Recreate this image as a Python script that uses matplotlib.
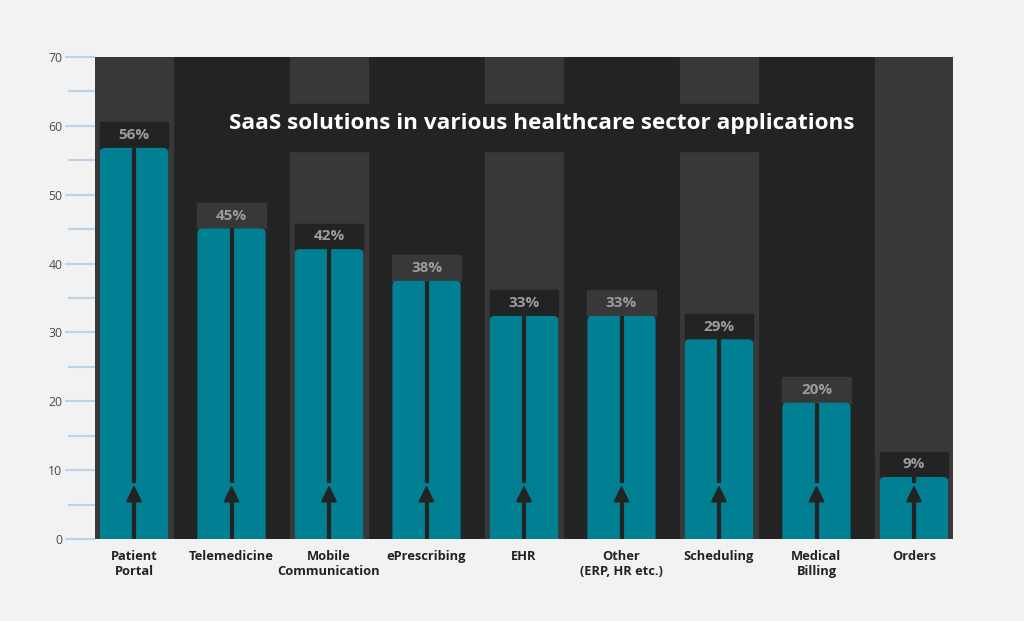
import numpy as np
import matplotlib
matplotlib.use('Agg')
import matplotlib.pyplot as plt
from matplotlib.patches import Rectangle, FancyBboxPatch, Polygon

plt.rcParams['font.family'] = ['Open Sans', 'DejaVu Sans']

# data
categories = ['Patient\nPortal', 'Telemedicine', 'Mobile\nCommunication',
              'ePrescribing', 'EHR', 'Other\n(ERP, HR etc.)', 'Scheduling',
              'Medical\nBilling', 'Orders']
values = [56.8, 45.1, 42.1, 37.5, 32.4, 32.4, 29.0, 19.8, 9.0]
labels = ['56%', '45%', '42%', '38%', '33%', '33%', '29%', '20%', '9%']
yticks = [0, 10, 20, 30, 40, 50, 60, 70]

BG = '#f2f2f2'
DARK = '#222323'
LIGHT = '#383838'
TEAL = '#017f93'
TICK = '#bcd3e8'

fig = plt.figure(figsize=(10.24, 6.21), dpi=100, facecolor=BG)
ax = fig.add_axes([95 / 1024, 82 / 621, 858 / 1024, 482 / 621])
ax.set_facecolor(DARK)
ax.set_xlim(-0.4, 8.4)
ax.set_ylim(0, 70)

# px -> data scale, used for rounded corners
xpx = 8.8 / 858
ypx = 70 / 482
aspect = ypx / xpx

x = np.arange(len(categories))
bw = 0.70

# lighter background bands behind every other column
for i in x[::2]:
    ax.add_patch(Rectangle((i - 0.4, 0), 0.8, 70, color=LIGHT, zorder=0))
# dark strip behind the title
ax.add_patch(Rectangle((1.6, 56.3), 4.8, 6.9, color=DARK, zorder=0.5))

for i, v, lab in zip(x, values, labels):
    box_col = DARK if i % 2 == 0 else LIGHT
    ax.add_patch(Rectangle((i - bw / 2, v), bw, 3.7, color=box_col, zorder=1))
    ax.text(i, v + 1.85, lab, ha='center', va='center', color='#9c9c9c',
            fontsize=11, fontweight='bold', zorder=5)
    bar = FancyBboxPatch((i - bw / 2, -2), bw, v + 2,
                         boxstyle='round,pad=0,rounding_size=0.05',
                         mutation_aspect=aspect, fc=TEAL, ec='none', zorder=2)
    ax.add_patch(bar)
    # center line with arrow head
    ax.plot([i, i], [0, 5.6], color=DARK, lw=3, solid_capstyle='butt', zorder=3)
    ax.plot([i, i], [8.1, v], color=DARK, lw=3, solid_capstyle='butt', zorder=3)
    ax.add_patch(Polygon([[i - 0.075, 5.4], [i + 0.075, 5.4], [i, 7.6]],
                         closed=True, color=DARK, zorder=3))

ax.text(4.18, 60.3, 'SaaS solutions in various healthcare sector applications',
        ha='center', va='center', color='white', fontsize=16.2,
        fontweight='bold', zorder=5)

for s in ax.spines.values():
    s.set_visible(False)

ax.set_xticks(x)
ax.set_xticklabels(categories, fontsize=9.3, fontweight='bold', color='#222222',
                   linespacing=1.2, va='top')
ax.tick_params(axis='x', length=0, pad=8)

ax.set_yticks(yticks)
ax.set_yticks(np.arange(5, 70, 10), minor=True)
ax.tick_params(axis='y', which='major', length=21.5, width=1.6, color=TICK,
               labelsize=8.8, labelcolor='#4a4a4a', pad=2)
ax.tick_params(axis='y', which='minor', length=19.5, width=1.6, color=TICK)

fig.savefig('out.png', dpi=100, facecolor=BG)
